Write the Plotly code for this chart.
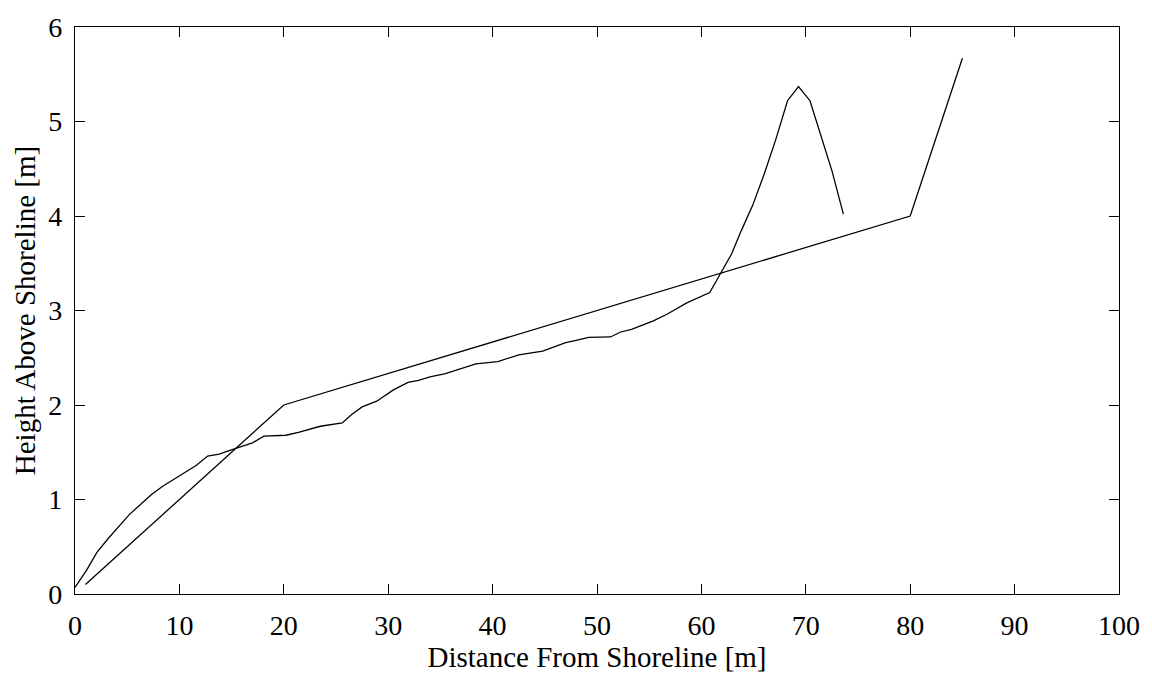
import plotly.graph_objects as go

# Profile 1: piecewise linear design profile
design_x = [1, 20, 80, 85]
design_y = [0.1, 2.0, 4.0, 5.67]

# Profile 2: measured beach profile
measured_x = [0.0, 1.1, 2.1, 3.2, 5.2, 7.3, 8.4, 10.6, 11.6, 12.7, 13.8, 15.4, 17.0, 18.1,
              20.2, 21.4, 22.4, 23.5, 25.6, 26.5, 27.5, 28.9, 30.5, 31.9, 32.9, 34.1, 35.4,
              37.3, 38.4, 40.5, 42.5, 44.8, 45.6, 47.0, 47.9, 49.2, 51.3, 52.2, 53.3, 55.4,
              56.7, 58.6, 60.8, 61.9, 62.9, 63.8, 64.9, 66.0, 67.1, 68.25, 69.3, 70.4, 71.4,
              72.5, 73.6]
measured_y = [0.07, 0.25, 0.44, 0.59, 0.84, 1.05, 1.14, 1.29, 1.36, 1.46, 1.48, 1.54, 1.60, 1.67,
              1.68, 1.71, 1.74, 1.775, 1.81, 1.90, 1.98, 2.04, 2.16, 2.24, 2.26, 2.30, 2.33,
              2.40, 2.435, 2.46, 2.53, 2.57, 2.60, 2.66, 2.68, 2.715, 2.72, 2.77, 2.80, 2.89,
              2.96, 3.08, 3.19, 3.41, 3.60, 3.84, 4.11, 4.44, 4.80, 5.22, 5.37, 5.22, 4.86,
              4.48, 4.02]

x_ticks = [0, 10, 20, 30, 40, 50, 60, 70, 80, 90, 100]
y_ticks = [0, 1, 2, 3, 4, 5, 6]

font_family = "Liberation Serif"

fig = go.Figure()
fig.add_trace(go.Scatter(x=measured_x, y=measured_y, mode="lines",
                         line=dict(color="black", width=1.3), showlegend=False))
fig.add_trace(go.Scatter(x=design_x, y=design_y, mode="lines",
                         line=dict(color="black", width=1.3), showlegend=False))

axis_common = dict(showgrid=False, zeroline=False, showline=True, linecolor="black",
                   linewidth=1.3, mirror="ticks", ticks="inside", ticklen=10,
                   tickcolor="black", tickwidth=1, ticklabelstandoff=6,
                   tickfont=dict(family=font_family, size=28, color="black"))

fig.update_layout(
    width=1152, height=675,
    margin=dict(l=75, r=27, t=18, b=78),
    paper_bgcolor="white", plot_bgcolor="white",
    xaxis=dict(range=[0, 100], tickvals=x_ticks, ticktext=[str(v) for v in x_ticks],
               title=dict(text="Distance From Shoreline [m]", standoff=2,
                          font=dict(family=font_family, size=29, color="black")),
               **axis_common),
    yaxis=dict(range=[0, 6], tickvals=y_ticks, ticktext=[str(v) for v in y_ticks],
               title=dict(text="Height Above Shoreline [m]", standoff=4,
                          font=dict(family=font_family, size=29, color="black")),
               **axis_common),
)

fig.write_html("out.html")
